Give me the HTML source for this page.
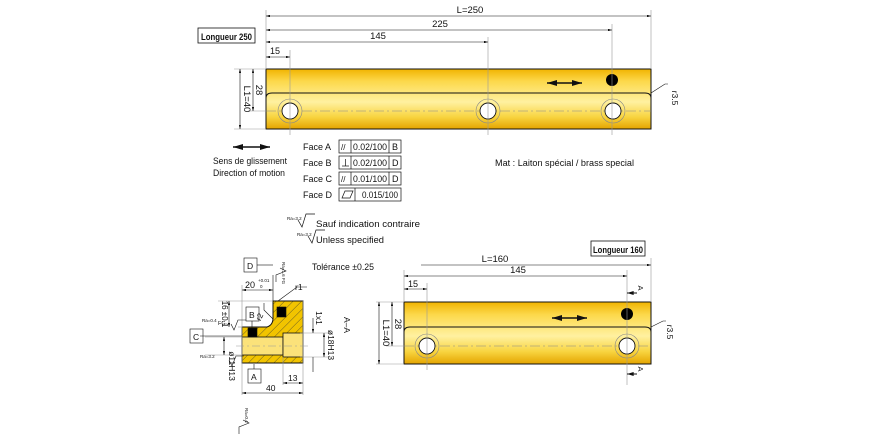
<!DOCTYPE html>
<html><head><meta charset="utf-8"><style>
html,body{margin:0;padding:0;background:#fff}
svg{display:block}
text{font-family:"Liberation Sans",sans-serif;fill:#111}
</style></head><body>
<svg width="870" height="435" viewBox="0 0 870 435" xmlns="http://www.w3.org/2000/svg">
<defs>
<linearGradient id="g" x1="0" y1="0" x2="0" y2="1">
<stop offset="0" stop-color="#f0b400"/><stop offset="0.2" stop-color="#fcd84a"/>
<stop offset="0.55" stop-color="#fff1a0"/><stop offset="0.8" stop-color="#f8d440"/><stop offset="1" stop-color="#e4a400"/>
</linearGradient>
<marker id="a" viewBox="0 0 10 6" refX="10" refY="3" markerWidth="7" markerHeight="4" orient="auto-start-reverse"><path d="M0,0L10,3L0,6z" fill="#111"/></marker>
<pattern id="h" width="6" height="6" patternUnits="userSpaceOnUse" patternTransform="rotate(45)"><rect width="6" height="6" fill="#f2c400"/><line x1="0" y1="0" x2="0" y2="6" stroke="#333" stroke-width="0.7"/></pattern>
</defs>
<g stroke="#111" stroke-width="0.6" fill="none">
<rect x="266" y="69" width="385" height="60" fill="url(#g)" stroke="#111" stroke-width="1"/>
<path d="M266,98 Q266,93 272,93 L645,93 Q651,93 651,98" stroke-width="0.9"/>
<line x1="266" y1="111" x2="651" y2="111" stroke-dasharray="10,3,2,3" stroke="#888"/>
<g stroke="#888"><circle cx="290" cy="111" r="12"/><circle cx="488" cy="111" r="12"/><circle cx="613" cy="111" r="12"/></g>
<g fill="#fff" stroke="#111" stroke-width="0.9"><circle cx="290" cy="111" r="8"/><circle cx="488" cy="111" r="8"/><circle cx="613" cy="111" r="8"/></g>
<circle cx="612" cy="80" r="6" fill="#000" stroke="none"/>
<line x1="547" y1="83" x2="582" y2="83" stroke-width="1.5" marker-start="url(#a)" marker-end="url(#a)"/>
<g stroke="#999"><line x1="266" y1="10" x2="266" y2="69"/><line x1="651" y1="10" x2="651" y2="69"/><line x1="612" y1="24" x2="612" y2="135"/><line x1="488" y1="37" x2="488" y2="135"/><line x1="290" y1="50" x2="290" y2="135"/>
<line x1="234" y1="69" x2="266" y2="69"/><line x1="234" y1="129" x2="266" y2="129"/><line x1="248" y1="111" x2="266" y2="111"/></g>
<line x1="266" y1="16" x2="651" y2="16" marker-start="url(#a)" marker-end="url(#a)"/>
<line x1="266" y1="30" x2="612" y2="30" marker-start="url(#a)" marker-end="url(#a)"/>
<line x1="266" y1="42" x2="488" y2="42" marker-start="url(#a)" marker-end="url(#a)"/>
<line x1="266" y1="57" x2="290" y2="57" marker-start="url(#a)" marker-end="url(#a)"/>
<line x1="240" y1="69" x2="240" y2="129" marker-start="url(#a)" marker-end="url(#a)"/>
<line x1="253" y1="69" x2="253" y2="111" marker-start="url(#a)" marker-end="url(#a)"/>
<polyline points="651,93 665,84 668,84"/>
<rect x="198" y="28" width="57" height="15" stroke-width="0.8"/>
<line x1="233" y1="147" x2="270" y2="147" stroke-width="1.5" marker-start="url(#a)" marker-end="url(#a)"/>
<g stroke-width="0.7">
<rect x="339" y="140" width="62" height="13"/><line x1="351" y1="140" x2="351" y2="153"/><line x1="389" y1="140" x2="389" y2="153"/>
<rect x="339" y="156" width="62" height="13"/><line x1="351" y1="156" x2="351" y2="169"/><line x1="389" y1="156" x2="389" y2="169"/>
<rect x="339" y="172" width="62" height="13"/><line x1="351" y1="172" x2="351" y2="185"/><line x1="389" y1="172" x2="389" y2="185"/>
<rect x="339" y="188" width="62" height="13"/><line x1="355" y1="188" x2="355" y2="201"/>
<line x1="342" y1="166" x2="349" y2="166"/><line x1="345.5" y1="159" x2="345.5" y2="166"/>
<path d="M342,198 L345,191 L353,191 L350,198z"/>
<path d="M298,220 L302,227 L306,214 L315,214"/><path d="M308,236 L312,243 L316,230 L325,230"/>
</g>
<rect x="404" y="302" width="247" height="62" fill="url(#g)" stroke="#111" stroke-width="1"/>
<path d="M404,332 Q404,327 410,327 L645,327 Q651,327 651,332" stroke-width="0.9"/>
<line x1="404" y1="346" x2="651" y2="346" stroke-dasharray="10,3,2,3" stroke="#888"/>
<g stroke="#888"><circle cx="427" cy="346" r="12"/><circle cx="627" cy="346" r="12"/></g>
<g fill="#fff" stroke="#111" stroke-width="0.9"><circle cx="427" cy="346" r="8"/><circle cx="627" cy="346" r="8"/></g>
<circle cx="627" cy="314" r="6" fill="#000" stroke="none"/>
<line x1="552" y1="318" x2="587" y2="318" stroke-width="1.5" marker-start="url(#a)" marker-end="url(#a)"/>
<g stroke="#999"><line x1="651" y1="258" x2="651" y2="302"/><line x1="404" y1="270" x2="404" y2="302"/><line x1="627" y1="270" x2="627" y2="385"/><line x1="427" y1="283" x2="427" y2="370"/>
<line x1="376" y1="302" x2="404" y2="302"/><line x1="376" y1="364" x2="404" y2="364"/><line x1="386" y1="346" x2="404" y2="346"/></g>
<line x1="421" y1="265" x2="651" y2="265" marker-end="url(#a)"/>
<line x1="404" y1="276" x2="627" y2="276" marker-start="url(#a)" marker-end="url(#a)"/>
<line x1="404" y1="289" x2="427" y2="289" marker-start="url(#a)" marker-end="url(#a)"/>
<line x1="379" y1="302" x2="379" y2="364" marker-start="url(#a)" marker-end="url(#a)"/>
<line x1="392" y1="302" x2="392" y2="346" marker-start="url(#a)" marker-end="url(#a)"/>
<polyline points="651,327 663,321 666,321"/>
<rect x="591" y="241" width="54" height="15" stroke-width="0.8"/>
<line x1="627" y1="293" x2="637" y2="293" marker-start="url(#a)" stroke-width="1"/>
<line x1="627" y1="374" x2="637" y2="374" marker-start="url(#a)" stroke-width="1"/>
<path d="M273,301 L303,301 L303,363 L242,363 L242,327 L267,327 Q273,325 273,318z" fill="url(#h)" stroke="#111" stroke-width="1"/>
<rect x="242" y="337" width="41" height="18" fill="#fbe27a" stroke="#111" stroke-width="0.8"/>
<rect x="283" y="333" width="20" height="24" fill="#fbe27a" stroke="#111" stroke-width="0.8"/>
<line x1="236" y1="346" x2="310" y2="346" stroke="#999" stroke-dasharray="8,3,2,3"/>
<rect x="277" y="307" width="9" height="10" fill="#000"/>
<rect x="248" y="328" width="9" height="9" fill="#000"/>
<g stroke="#999">
<line x1="242" y1="285" x2="242" y2="395"/><line x1="303" y1="300" x2="303" y2="395"/><line x1="283" y1="357" x2="283" y2="385"/>
<line x1="218" y1="301" x2="273" y2="301"/><line x1="238" y1="327" x2="242" y2="327"/><line x1="300" y1="333" x2="332" y2="333"/><line x1="300" y1="357" x2="332" y2="357"/>
<line x1="205" y1="337" x2="242" y2="337"/><line x1="205" y1="355" x2="242" y2="355"/>
</g>
<line x1="242" y1="290" x2="273" y2="290" marker-start="url(#a)" marker-end="url(#a)"/>
<line x1="273" y1="275" x2="273" y2="301"/>
<line x1="229" y1="301" x2="229" y2="327" marker-start="url(#a)" marker-end="url(#a)"/>
<line x1="324" y1="333" x2="324" y2="357" marker-start="url(#a)" marker-end="url(#a)"/>
<line x1="313" y1="318" x2="313" y2="333" marker-end="url(#a)"/><line x1="313" y1="357" x2="313" y2="372"/>
<line x1="224" y1="337" x2="224" y2="355" marker-start="url(#a)" marker-end="url(#a)"/>
<line x1="242" y1="393" x2="303" y2="393" marker-start="url(#a)" marker-end="url(#a)"/>
<line x1="283" y1="383" x2="303" y2="383" marker-start="url(#a)" marker-end="url(#a)"/>
<line x1="200" y1="336" x2="242" y2="336"/>
<rect x="190" y="329" width="13" height="14"/>
<rect x="248" y="369" width="13" height="14"/><line x1="254" y1="364" x2="254" y2="369"/>
<rect x="244" y="258" width="13" height="14"/><line x1="257" y1="265" x2="273" y2="265"/>
<rect x="246" y="307" width="13" height="14"/><line x1="252" y1="321" x2="252" y2="328"/>
<polyline points="278,301 297,287 307,287"/>
<polyline points="273,319 264,310 264,303"/>
<path d="M231,324 L234,330 L238,320 L246,320"/><path d="M229,360 L232,366 L236,356 L244,356"/>
<path d="M280,268 L286,271 L276,275 L276,282" /><path d="M243,420 L249,423 L239,427 L239,434"/>
</g>
<g font-size="9.5">
<text x="470" y="13" text-anchor="middle">L=250</text>
<text x="440" y="27" text-anchor="middle">225</text>
<text x="378" y="39" text-anchor="middle">145</text>
<text x="270" y="54" font-size="9">15</text>
<text x="201" y="40" font-weight="bold" font-size="9" textLength="51" lengthAdjust="spacingAndGlyphs">Longueur 250</text>
<text transform="translate(244,99) rotate(90)" text-anchor="middle">L1=40</text>
<text transform="translate(256,90) rotate(90)" text-anchor="middle">28</text>
<text transform="translate(672,98) rotate(90)" text-anchor="middle" font-size="8.5">r3.5</text>
<text x="213" y="164" font-size="9" textLength="74" lengthAdjust="spacingAndGlyphs">Sens de glissement</text>
<text x="213" y="176" font-size="9" textLength="72" lengthAdjust="spacingAndGlyphs">Direction of motion</text>
<text x="303" y="150" font-size="9">Face A</text>
<text x="303" y="166" font-size="9">Face B</text>
<text x="303" y="182" font-size="9">Face C</text>
<text x="303" y="198" font-size="9">Face D</text>
<text x="341" y="150" font-size="8">//</text><text x="353" y="150" font-size="9" textLength="34" lengthAdjust="spacingAndGlyphs">0.02/100</text><text x="392" y="150" font-size="9">B</text>
<text x="353" y="166" font-size="9" textLength="34" lengthAdjust="spacingAndGlyphs">0.02/100</text><text x="392" y="166" font-size="9">D</text>
<text x="341" y="182" font-size="8">//</text><text x="353" y="182" font-size="9" textLength="34" lengthAdjust="spacingAndGlyphs">0.01/100</text><text x="392" y="182" font-size="9">D</text>
<text x="362" y="198" font-size="9" textLength="36" lengthAdjust="spacingAndGlyphs">0.015/100</text>
<text x="287" y="220" font-size="4.5">Ra=3.2</text><text x="316" y="227" font-size="9" textLength="104" lengthAdjust="spacingAndGlyphs">Sauf indication contraire</text>
<text x="297" y="236" font-size="4.5">Ra=3.2</text><text x="316" y="243" font-size="9" textLength="68" lengthAdjust="spacingAndGlyphs">Unless specified</text>
<text x="495" y="166" font-size="9" textLength="139" lengthAdjust="spacingAndGlyphs">Mat : Laiton spécial / brass special</text>
<text x="312" y="270" font-size="9" textLength="62" lengthAdjust="spacingAndGlyphs">Tolérance ±0.25</text>
<text x="495" y="262" text-anchor="middle">L=160</text>
<text x="518" y="273" text-anchor="middle">145</text>
<text x="408" y="287" font-size="9">15</text>
<text x="593" y="253" font-weight="bold" font-size="9" textLength="50" lengthAdjust="spacingAndGlyphs">Longueur 160</text>
<text transform="translate(383,333) rotate(90)" text-anchor="middle">L1=40</text>
<text transform="translate(395,324) rotate(90)" text-anchor="middle">28</text>
<text transform="translate(667,332) rotate(90)" text-anchor="middle" font-size="8.5">r3.5</text>
<text transform="translate(638,288) rotate(90)" text-anchor="middle" font-size="7.5">A</text>
<text transform="translate(638,369) rotate(90)" text-anchor="middle" font-size="7.5">A</text>
<text x="245" y="288" font-size="9">20</text><text x="258" y="282" font-size="4.5">+0.01</text><text x="260" y="288" font-size="4.5">0</text>
<text x="295" y="290" font-size="8.5">r1</text>
<text transform="translate(222,314) rotate(90)" text-anchor="middle" font-size="8">16 ±0.1</text>
<text transform="translate(262,318) rotate(-65)" text-anchor="middle" font-size="8">r2</text>
<text x="249" y="318" font-size="8.5">B</text>
<text x="193" y="340" font-size="8.5">C</text>
<text x="251" y="380" font-size="8.5">A</text>
<text x="247" y="269" font-size="8.5">D</text>
<text transform="translate(316,318) rotate(90)" text-anchor="middle" font-size="8.5">1x1</text>
<text transform="translate(328,345) rotate(90)" text-anchor="middle" font-size="8.5">ø18H13</text>
<text transform="translate(344,325) rotate(90)" text-anchor="middle" font-size="8.5">A–A</text>
<text transform="translate(229,366) rotate(90)" text-anchor="middle" font-size="8.5">ø11H13</text>
<text x="288" y="381" font-size="8.5">13</text>
<text x="266" y="391" font-size="8.5">40</text>
<text x="202" y="322" font-size="4.5">Ra=0.4</text><text x="218" y="325" font-size="5.5">FG</text>
<text x="200" y="358" font-size="4.5">Ra=3.2</text>
<text transform="translate(282,262) rotate(90)" font-size="4.5">Ra=1.6 FG</text>
<text transform="translate(245,408) rotate(90)" font-size="4.5">Ra=0.4</text>
</g>
</svg>
</body></html>
